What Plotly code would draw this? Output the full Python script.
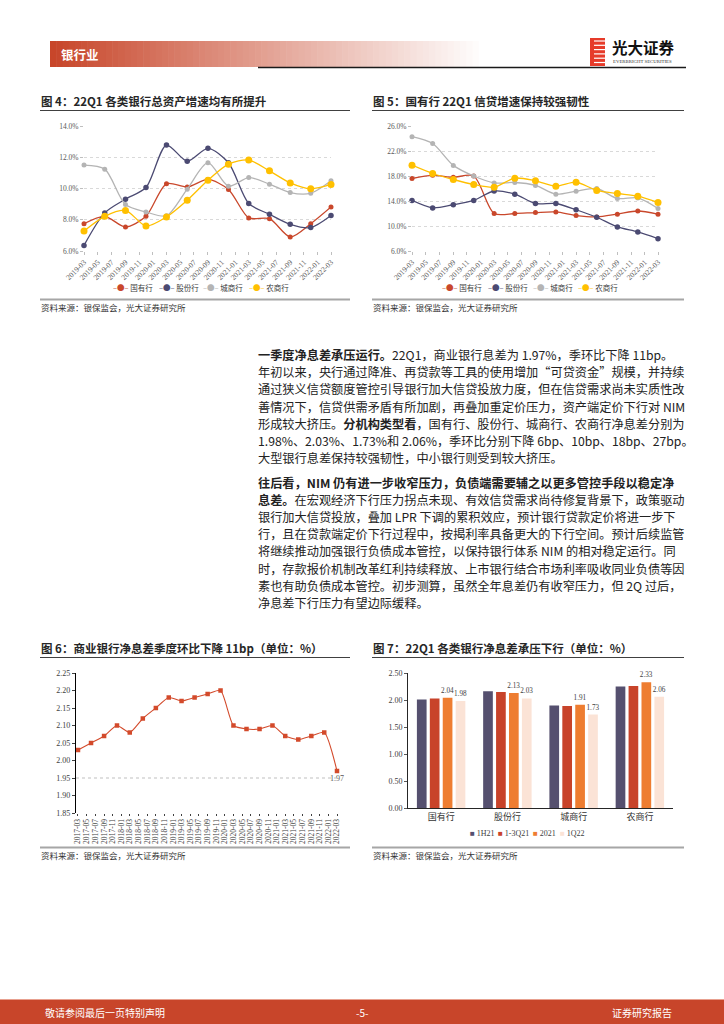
import plotly.graph_objects as go

# ---------------- data ----------------
quarters_19_22 = ["2019-03-01", "2019-06-01", "2019-09-01", "2019-12-01",
                  "2020-03-01", "2020-06-01", "2020-09-01", "2020-12-01",
                  "2021-03-01", "2021-06-01", "2021-09-01", "2021-12-01",
                  "2022-03-01"]
bank_types = ["国有行", "股份行", "城商行", "农商行"]

# Fig 4: total asset growth (%)
asset_state = [7.75, 8.22, 7.54, 8.22, 10.30, 10.10, 10.58, 9.94, 8.12, 8.07, 6.90, 7.75, 8.82]
asset_joint = [6.36, 8.44, 9.32, 10.06, 12.78, 11.75, 12.57, 11.65, 9.04, 8.35, 7.71, 7.50, 8.27]
asset_city = [11.50, 11.24, 8.97, 8.50, 8.25, 9.96, 11.65, 10.15, 10.70, 10.28, 9.74, 9.70, 10.50]
asset_rural = [7.28, 8.22, 8.60, 7.60, 8.18, 9.25, 10.53, 11.56, 11.82, 11.13, 10.36, 9.98, 10.26]

# Fig 5: loan growth (%)
loan_state = [17.6, 18.1, 17.8, 18.0, 12.0, 12.0, 12.15, 12.25, 11.67, 11.45, 11.9, 12.4, 11.9]
loan_joint = [14.1, 12.9, 13.4, 14.1, 15.6, 15.1, 13.6, 13.6, 12.6, 11.4, 9.85, 9.05, 7.98]
loan_city = [24.3, 23.2, 19.7, 18.0, 16.9, 16.96, 16.5, 15.1, 15.57, 16.0, 14.4, 14.5, 12.8]
loan_rural = [19.74, 18.4, 17.44, 16.64, 16.2, 17.66, 17.23, 16.37, 17.0, 15.7, 15.2, 14.77, 13.75]

# Fig 6: commercial bank NIM (%)
quarters_17_22 = ["2017-03-01", "2017-06-01", "2017-09-01", "2017-12-01",
                  "2018-03-01", "2018-06-01", "2018-09-01", "2018-12-01",
                  "2019-03-01", "2019-06-01", "2019-09-01", "2019-12-01",
                  "2020-03-01", "2020-06-01", "2020-09-01", "2020-12-01",
                  "2021-03-01", "2021-06-01", "2021-09-01", "2021-12-01",
                  "2022-03-01"]
nim_all = [2.03, 2.05, 2.07, 2.10, 2.08, 2.12, 2.15, 2.18, 2.17, 2.18, 2.19, 2.20,
           2.10, 2.09, 2.09, 2.10, 2.07, 2.06, 2.07, 2.08, 1.97]

# Fig 7: NIM by bank type (%)
nim_periods = ["1H21", "1-3Q21", "2021", "1Q22"]
nim_1h21 = [2.01, 2.16, 1.90, 2.25]
nim_1_3q21 = [2.03, 2.15, 1.89, 2.26]
nim_2021 = [2.04, 2.13, 1.91, 2.33]
nim_1q22 = [1.98, 2.03, 1.73, 2.06]

# ---------------- styling ----------------
W, H = 724, 1024
C_RED = "#c9472b"
C_NAVY = "#4b4a72"
C_GRAY = "#b4b4b4"
C_YEL = "#ffc000"
BAR_COLORS = ["#55506f", "#c8432a", "#ee7d31", "#fbe3d6"]
SERIF = "Liberation Serif, Noto Sans CJK SC"
SANS = "Noto Sans CJK SC"
TXT = "#222222"


def px(x):
    return x / W


def py(y):
    return 1 - y / H


fig = go.Figure()

# Fig 4 lines
for name, vals, col, ms in [("国有行", asset_state, C_RED, 5), ("股份行", asset_joint, C_NAVY, 5.5),
                            ("城商行", asset_city, C_GRAY, 5), ("农商行", asset_rural, C_YEL, 7)]:
    fig.add_trace(go.Scatter(x=quarters_19_22, y=vals, name=name, mode="lines+markers",
                             line=dict(color=col, width=1.3, shape="spline", smoothing=0.8),
                             marker=dict(color=col, size=ms), xaxis="x", yaxis="y",
                             cliponaxis=False, showlegend=False))
# Fig 5 lines
for name, vals, col, ms in [("国有行", loan_state, C_RED, 5), ("股份行", loan_joint, C_NAVY, 5.5),
                            ("城商行", loan_city, C_GRAY, 5), ("农商行", loan_rural, C_YEL, 7)]:
    fig.add_trace(go.Scatter(x=quarters_19_22, y=vals, name=name, mode="lines+markers",
                             line=dict(color=col, width=1.3, shape="spline", smoothing=0.8),
                             marker=dict(color=col, size=ms), xaxis="x2", yaxis="y2",
                             cliponaxis=False, showlegend=False))
# Fig 6 line
nim_text = [""] * (len(nim_all) - 1) + ["%.2f" % nim_all[-1]]
fig.add_trace(go.Scatter(x=quarters_17_22, y=nim_all, name="净息差", mode="lines+markers+text",
                         text=nim_text, textposition="bottom center",
                         textfont=dict(family=SERIF, size=8, color="#595959"),
                         line=dict(color="#d34a2b", width=1.1, shape="spline", smoothing=0.6),
                         marker=dict(color="#d34a2b", size=4.5, symbol="square"),
                         xaxis="x3", yaxis="y3", cliponaxis=False, showlegend=False))
# Fig 7 bars
for i, (name, vals) in enumerate(zip(nim_periods, [nim_1h21, nim_1_3q21, nim_2021, nim_1q22])):
    show_txt = name in ("2021", "1Q22")
    fig.add_trace(go.Bar(x=bank_types, y=vals, name=name, marker_color=BAR_COLORS[i],
                         marker_line_width=0,
                         text=["%.2f" % v for v in vals] if show_txt else None,
                         textposition="outside" if show_txt else "none",
                         constraintext="none",
                         textfont=dict(family=SERIF, size=7.2, color="#404040"),
                         xaxis="x4", yaxis="y4", cliponaxis=False, showlegend=False))

tickfont = dict(family=SERIF, size=7.5, color="#595959")
date_axis = dict(type="date", tickformat="%Y-%m", dtick="M2", ticks="outside", ticklen=3,
                 tickcolor="#bfbfbf", showgrid=False, zeroline=False, showline=False,
                 tickfont=tickfont, tickangle=-45, automargin=False)
pct_axis = dict(ticks="outside", ticklen=3, tickcolor="#bfbfbf", showline=False,
                showgrid=True, gridcolor="#d9d9d9", griddash="dot", gridwidth=1,
                zeroline=False, tickfont=tickfont, ticksuffix="%", tickformat=".1f",
                automargin=False)

fig.update_layout(
    template="none",
    width=W, height=H, margin=dict(l=0, r=0, t=0, b=0, pad=0, autoexpand=False),
    paper_bgcolor="white", plot_bgcolor="rgba(0,0,0,0)",
    bargap=0.22, bargroupgap=0.25, showlegend=False,
    xaxis=dict(date_axis, domain=[px(84), px(331)], range=["2019-03-01", "2022-03-01"],
               tick0="2019-03-01", anchor="y"),
    yaxis=dict(pct_axis, domain=[py(251), py(126)], range=[6, 14], dtick=2, tick0=6, anchor="x"),
    xaxis2=dict(date_axis, domain=[px(412), px(658)], range=["2019-03-01", "2022-03-01"],
                tick0="2019-03-01", anchor="y2"),
    yaxis2=dict(pct_axis, domain=[py(251), py(126)], range=[6, 26], dtick=4, tick0=6, anchor="x2"),
    xaxis3=dict(type="date", tickformat="%Y-%m", dtick="M2", tick0="2017-03-01",
                range=["2017-02-15", "2022-03-01"], domain=[px(76), px(337)], anchor="y3",
                ticks="outside", ticklen=2, tickcolor="#404040", tickangle=-90,
                tickfont=dict(family=SERIF, size=7.5, color="#404040"),
                showgrid=False, zeroline=False, showline=False, automargin=False),
    yaxis3=dict(domain=[py(813), py(673)], range=[1.85, 2.25], dtick=0.05, tickformat=".2f",
                anchor="x3", showline=True, linecolor="#000000", linewidth=1.3,
                ticks="outside", ticklen=3, tickcolor="#404040", showgrid=False, zeroline=False,
                tickfont=dict(family=SERIF, size=8, color="#404040"), automargin=False),
    xaxis4=dict(domain=[px(408), px(673)], anchor="y4", showline=True, linecolor="#262626",
                linewidth=1, ticks="", showgrid=False, automargin=False,
                tickfont=dict(family=SANS, size=9, color="#333333")),
    yaxis4=dict(domain=[py(808), py(673)], range=[0, 2.5], dtick=0.5, tickformat=".2f",
                anchor="x4", showline=True, linecolor="#262626", linewidth=1,
                ticks="outside", ticklen=3, tickcolor="#595959", showgrid=False, zeroline=False,
                tickfont=dict(family=SERIF, size=8, color="#404040"), automargin=False),
    font=dict(family=SANS, color=TXT),
)

shapes = []
annos = []


def line(x0, y0, x1, y1, color, width, dash="solid"):
    shapes.append(dict(type="line", xref="paper", yref="paper", x0=px(x0), y0=py(y0),
                       x1=px(x1), y1=py(y1), line=dict(color=color, width=width, dash=dash)))


def rect(x0, y0, x1, y1, color):
    shapes.append(dict(type="rect", xref="paper", yref="paper", x0=px(x0), y0=py(y0),
                       x1=px(x1), y1=py(y1), fillcolor=color, line=dict(width=0), layer="below"))


def text(x, y, s, size, color=TXT, family=SANS, xanchor="left"):
    annos.append(dict(xref="paper", yref="paper", x=px(x), y=py(y), text=s, showarrow=False,
                      xanchor=xanchor, yanchor="middle", borderpad=0,
                      font=dict(size=size, color=color, family=family)))


# ---- header gradient bar ----
n = 70
x_start, x_end = 50, 485
c0 = (200, 70, 42)
for i in range(n):
    t = i / (n - 1)
    r = int(c0[0] + (255 - c0[0]) * t)
    g = int(c0[1] + (255 - c0[1]) * t)
    b = int(c0[2] + (255 - c0[2]) * t)
    xa = x_start + (x_end - x_start) * i / n
    xb = x_start + (x_end - x_start) * (i + 1) / n + 0.6
    rect(xa, 41, xb, 67, "rgb(%d,%d,%d)" % (r, g, b))
text(60, 54, "<b>银行业</b>", 12.5, "white")
line(258, 67.5, 686, 67.5, "#1a1a1a", 1.5)
# logo
rect(590, 38, 605, 66, "#e63b2a")
for k in range(6):
    yy = 41 + k * 4.3
    line(594, yy, 605, yy, "white", 1.2)
text(611, 47, "<b>光大证券</b>", 15.5, "#111111")
text(612, 61, "EVERBRIGHT SECURITIES", 4.8, "#333333", "Liberation Serif")

# ---- chart titles & rules ----
text(40, 101, "<b>图 4：22Q1 各类银行总资产增速均有所提升</b>", 11.5, "#262626")
text(372, 101, "<b>图 5：国有行 22Q1 信贷增速保持较强韧性</b>", 11.5, "#262626")
line(40, 110.5, 350, 110.5, "#404040", 1.2)
line(372, 110.5, 684, 110.5, "#404040", 1.2)
text(40, 648, "<b>图 6：商业银行净息差季度环比下降 11bp（单位：%）</b>", 11.5, "#262626")
text(372, 648, "<b>图 7：22Q1 各类银行净息差承压下行（单位：%）</b>", 11.5, "#262626")
line(40, 657.5, 350, 657.5, "#404040", 1.2)
line(372, 657.5, 684, 657.5, "#404040", 1.2)

# source rules
for yy, ty in [(299.5, 306.5), (847.5, 855)]:
    line(40, yy, 350, yy, "#a6a6a6", 2)
    line(372, yy, 684, yy, "#a6a6a6", 2)
    text(40, ty, "资料来源：银保监会，光大证券研究所", 8.5, "#333333")
    text(372, ty, "资料来源：银保监会，光大证券研究所", 8.5, "#333333")

# dotted reference line on fig 6
shapes.append(dict(type="line", xref="x3 domain", yref="y3", x0=0, x1=1, y0=1.95, y1=1.95,
                   line=dict(color="#bfbfbf", width=1, dash="dot")))

# legends (fig 4/5)
leg_cols = [C_RED, C_NAVY, C_GRAY, C_YEL]
for base, xs in [(0, [112, 158, 202, 248]), (1, [441, 487, 532, 577])]:
    for name, col, xx in zip(bank_types, leg_cols, xs):
        text(xx, 287, '<span style="color:%s">–●–</span> %s' % (col, name), 7.5, "#404040")
# legend fig 7
for name, col, xx in zip(nim_periods, BAR_COLORS, [469, 497, 532, 559]):
    text(xx, 833, '<span style="color:%s">■</span> %s' % (col, name), 8, "#404040", SERIF)

# ---- body text ----
para1 = [
    "<b>一季度净息差承压运行。</b>22Q1，商业银行息差为 1.97%，季环比下降 11bp。",
    "年初以来，央行通过降准、再贷款等工具的使用增加“可贷资金”规模，并持续",
    "通过狭义信贷额度管控引导银行加大信贷投放力度，但在信贷需求尚未实质性改",
    "善情况下，信贷供需矛盾有所加剧，再叠加重定价压力，资产端定价下行对 NIM",
    "形成较大挤压。<b>分机构类型看</b>，国有行、股份行、城商行、农商行净息差分别为",
    "1.98%、2.03%、1.73%和 2.06%，季环比分别下降 6bp、10bp、18bp、27bp。",
    "大型银行息差保持较强韧性，中小银行则受到较大挤压。",
]
para2 = [
    "<b>往后看，NIM 仍有进一步收窄压力，负债端需要辅之以更多管控手段以稳定净</b>",
    "<b>息差。</b>在宏观经济下行压力拐点未现、有效信贷需求尚待修复背景下，政策驱动",
    "银行加大信贷投放，叠加 LPR 下调的累积效应，预计银行贷款定价将进一步下",
    "行，且在贷款端定价下行过程中，按揭利率具备更大的下行空间。预计后续监管",
    "将继续推动加强银行负债成本管控，以保持银行体系 NIM 的相对稳定运行。同",
    "时，存款报价机制改革红利持续释放、上市银行结合市场利率吸收同业负债等因",
    "素也有助负债成本管控。初步测算，虽然全年息差仍有收窄压力，但 2Q 过后，",
    "净息差下行压力有望边际缓释。",
]
for i, s in enumerate(para1):
    text(257, 355 + i * 17.2, s, 12.2, TXT)
for i, s in enumerate(para2):
    text(257, 482.5 + i * 17.2, s, 12.2, TXT)

# ---- footer ----
rect(0, 999, 724, 1024, "#c8452a")
line(0, 999.5, 724, 999.5, "#e8a08f", 1)
text(44, 1012, "敬请参阅最后一页特别声明", 10, "white")
text(362, 1012, "-5-", 10, "white", xanchor="center")
text(611, 1012, "证券研究报告", 10, "white")

fig.update_layout(shapes=shapes, annotations=annos)

fig.write_html("out.html", config={"displayModeBar": False, "responsive": False},
               post_script="document.documentElement.style.overflow='hidden';"
                           "document.body.style.margin='0';document.body.style.overflow='hidden';"
                           "window.scrollTo(0,0);")
